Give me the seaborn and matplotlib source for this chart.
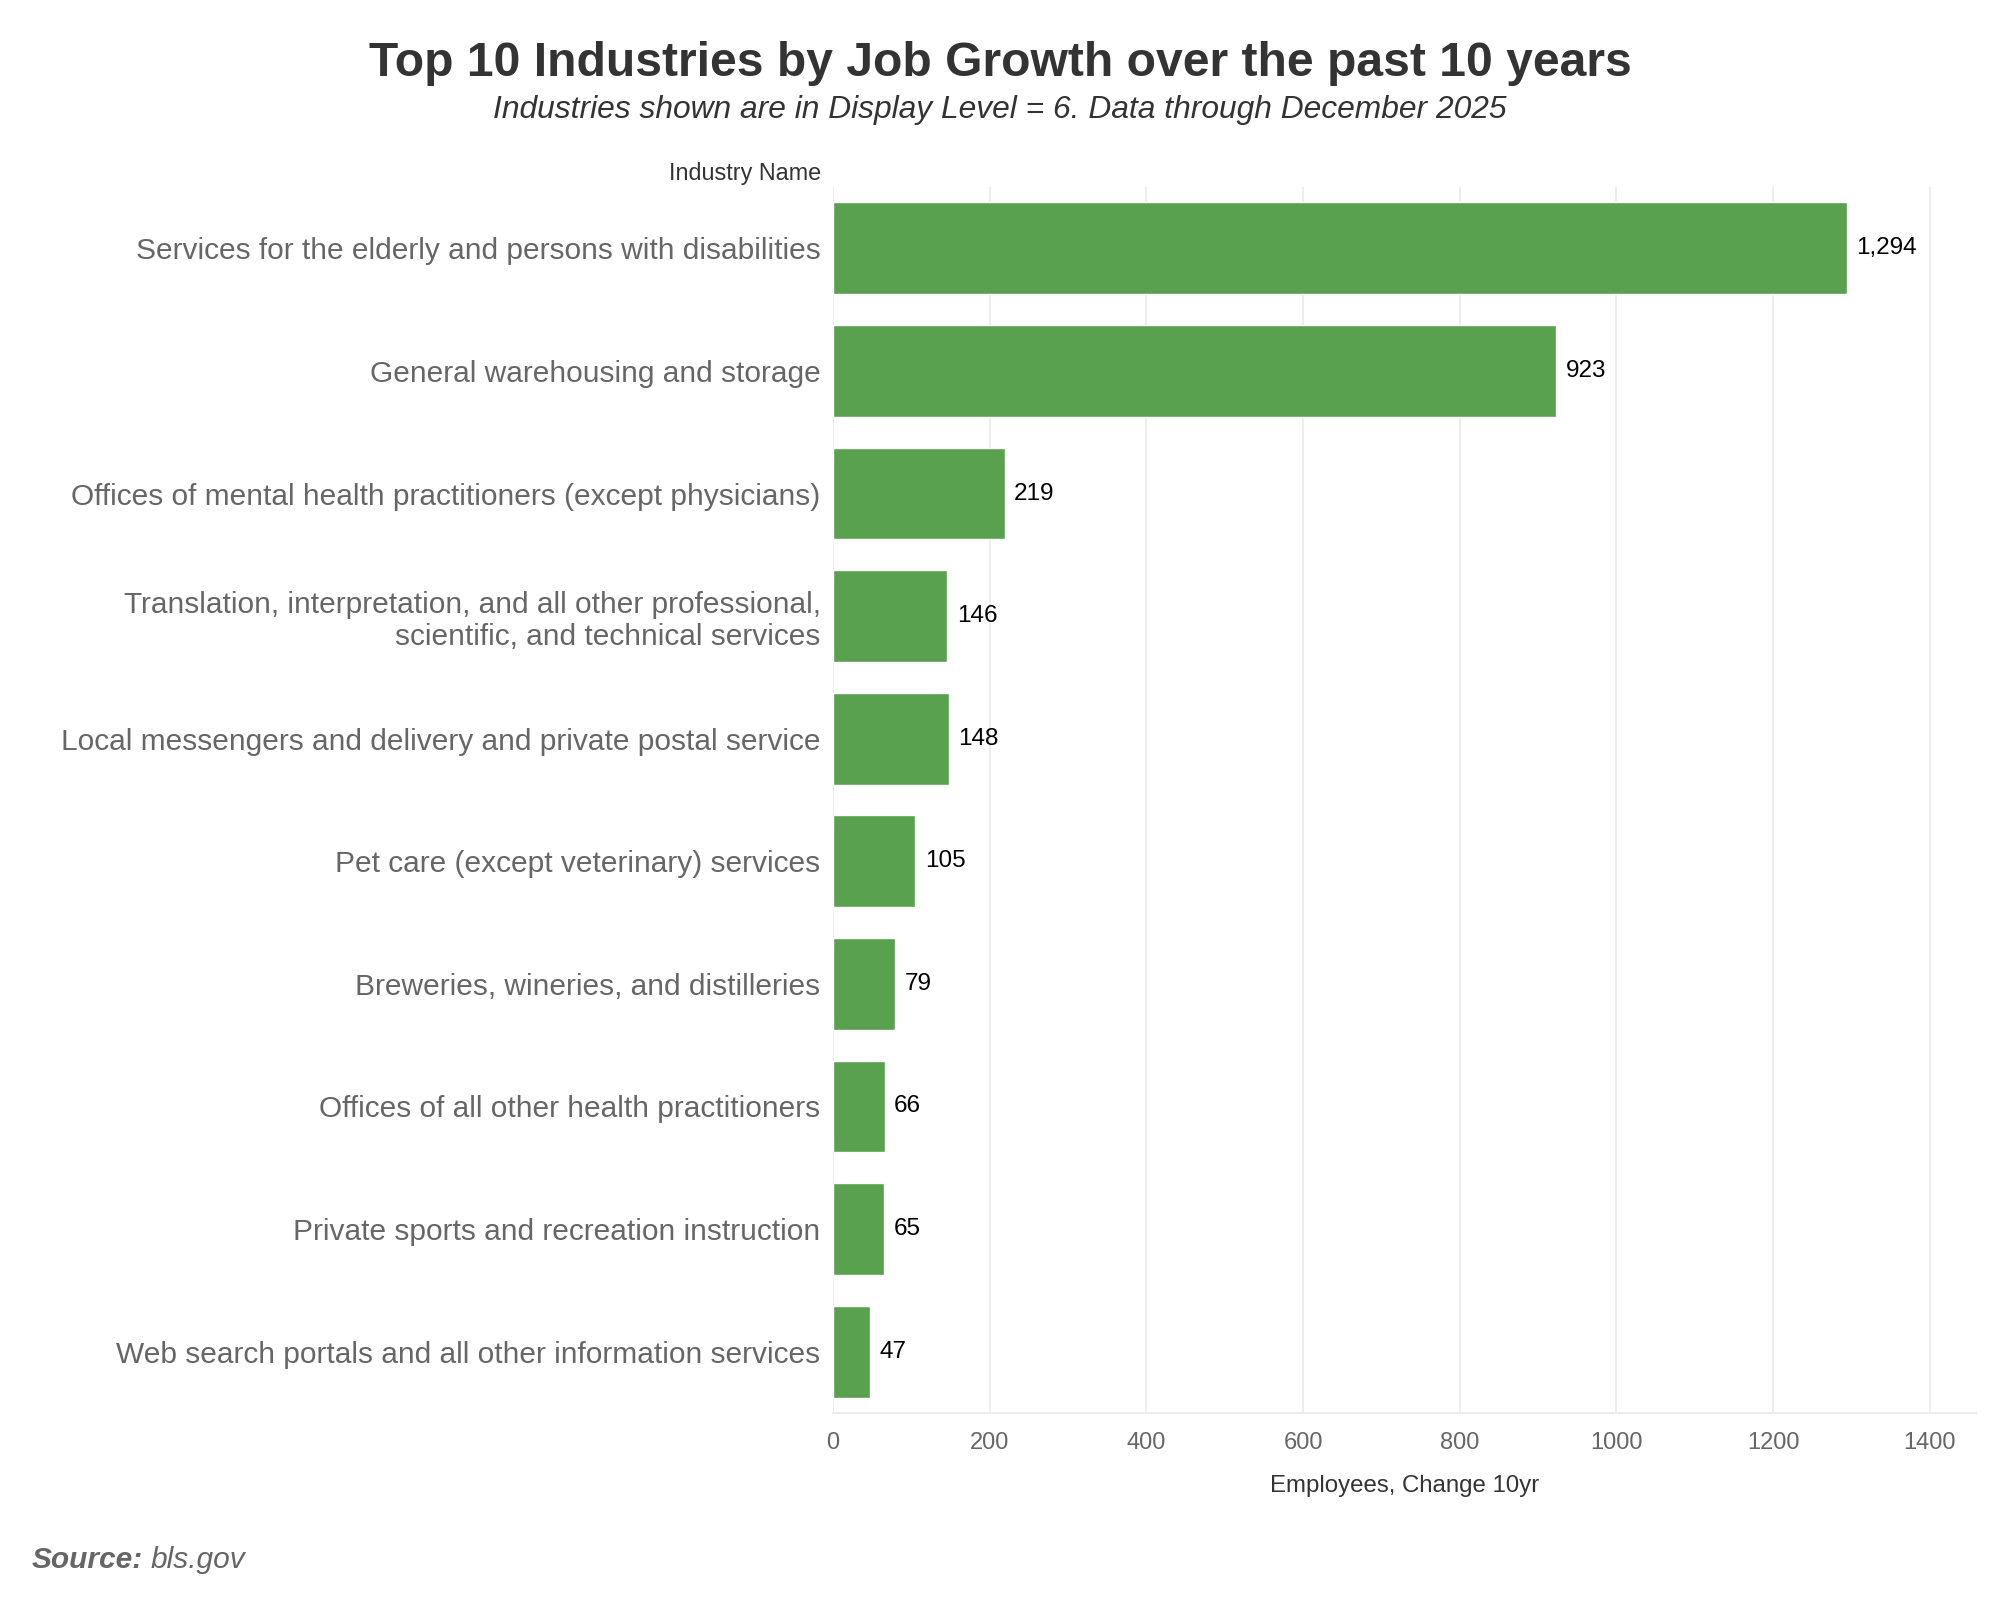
import pandas as pd
import seaborn as sns
import matplotlib.pyplot as plt

industries = [
    "Services for the elderly and persons with disabilities",
    "General warehousing and storage",
    "Offices of mental health practitioners (except physicians)",
    "Translation, interpretation, and all other professional,\nscientific, and technical services",
    "Local messengers and delivery and private postal service",
    "Pet care (except veterinary) services",
    "Breweries, wineries, and distilleries",
    "Offices of all other health practitioners",
    "Private sports and recreation instruction",
    "Web search portals and all other information services",
]
change_10yr = [1294, 923, 219, 146, 148, 105, 79, 66, 65, 47]
x_ticks = [0, 200, 400, 600, 800, 1000, 1200, 1400]


def main():
    sns.set_theme(style="white")
    plt.rcParams['font.family'] = ['Liberation Sans', 'DejaVu Sans']

    data = pd.DataFrame({"industry": industries, "change": change_10yr})

    fig = plt.figure(figsize=(20, 16), dpi=100)
    ax = fig.add_axes([0.4165, 0.1169, 0.5715, 0.7662])

    sns.barplot(ax=ax, data=data, y="industry", x="change", orient="h",
                color="#59A14F", saturation=1, width=0.75)

    for i, v in enumerate(change_10yr):
        ax.text(v + 12, i, f"{v:,}", va="center", ha="left", fontsize=17.5, color="black")

    ax.set_xlim(0, 1459)
    ax.set_ylim(9.5, -0.5)
    ax.set_xticks(x_ticks)
    ax.set_xticklabels([str(t) for t in x_ticks])
    ax.grid(axis="x", color="#ececec", linewidth=1.3)
    ax.grid(axis="y", visible=False)
    ax.set_axisbelow(True)
    for s in ["top", "right", "left"]:
        ax.spines[s].set_visible(False)
    ax.spines["bottom"].set_color("#ececec")
    ax.spines["bottom"].set_linewidth(1.5)
    ax.tick_params(axis="x", colors="#666666", labelsize=17, length=6, width=1.2, pad=8)
    ax.tick_params(axis="x", color="#ececec")
    ax.tick_params(axis="y", colors="#666666", labelsize=21.5, length=0, pad=9)
    for lab in ax.get_yticklabels():
        lab.set_linespacing(1.18)

    ax.set_ylabel("")
    ax.set_xlabel("Employees, Change 10yr", fontsize=17.3, color="#333333", labelpad=15)
    ax.text(-0.0103, 1.0057, "Industry Name", transform=ax.transAxes, ha="right",
            va="baseline", fontsize=16.8, color="#333333")

    fig.text(0.5, 0.9606, "Top 10 Industries by Job Growth over the past 10 years",
             ha="center", va="center", fontsize=34.6, fontweight="bold", color="#333333")
    fig.text(0.5, 0.931, "Industries shown are in Display Level = 6. Data through December 2025",
             ha="center", va="center", fontsize=22.9, fontstyle="italic", color="#333333")

    src = fig.text(0.016, 0.025, "Source:", ha="left", va="center", fontsize=21.5,
                   fontweight="bold", fontstyle="italic", color="#666666")
    ax.annotate("bls.gov", xy=(1, 0), xycoords=src, xytext=(5, 0), textcoords="offset points",
                ha="left", va="bottom", fontsize=21.5, fontstyle="italic", color="#666666",
                annotation_clip=False)

    fig.savefig("out.png", dpi=100, facecolor="white")


if __name__ == "__main__":
    main()
